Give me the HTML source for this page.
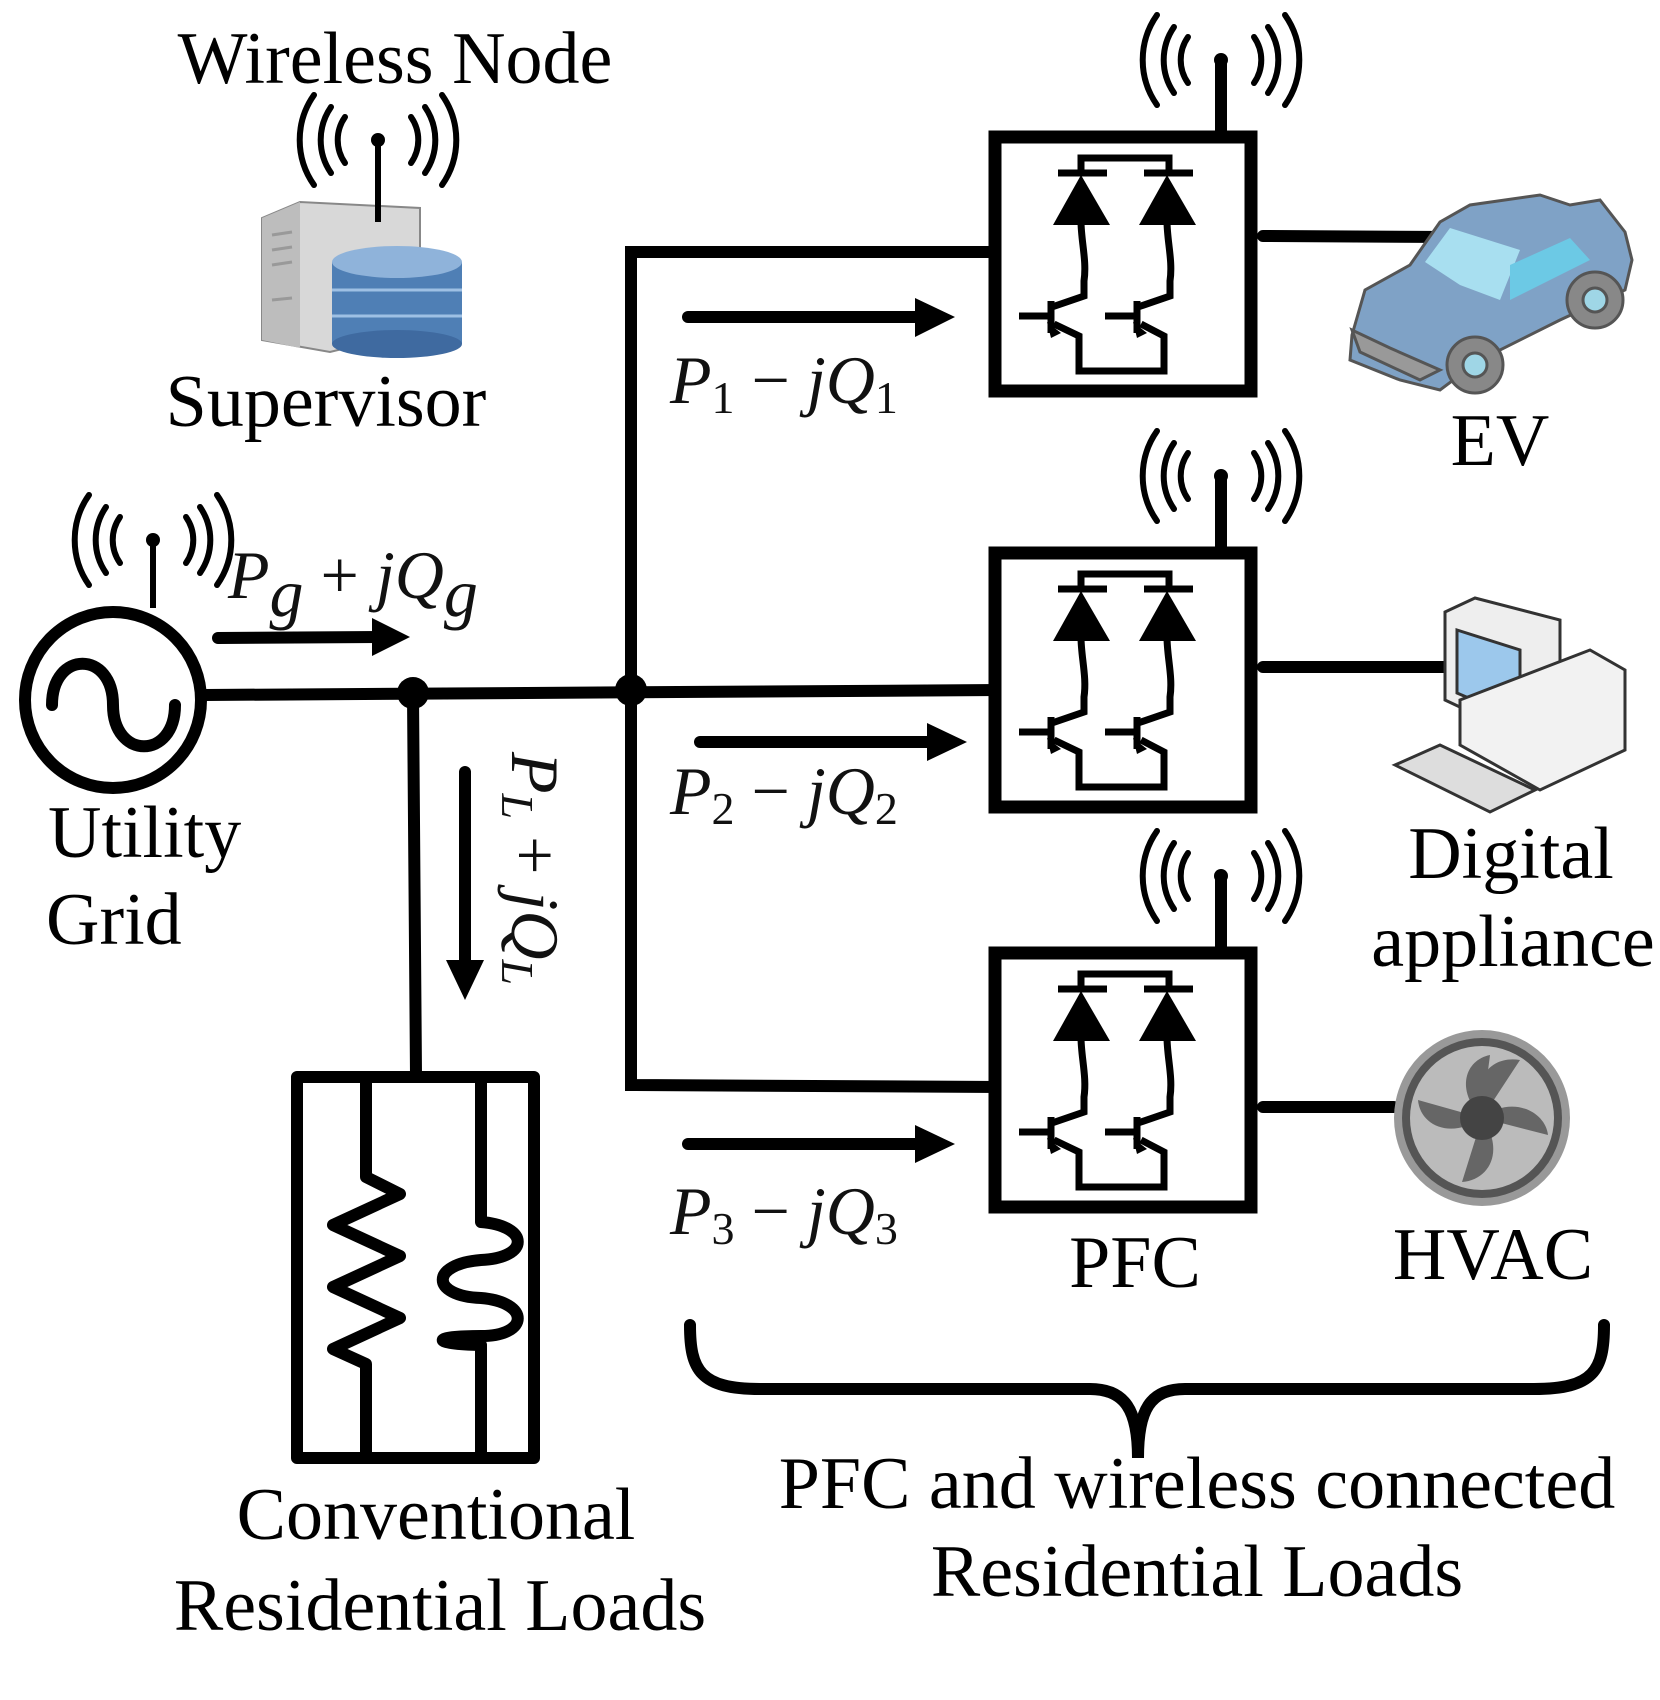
<!DOCTYPE html>
<html><head><meta charset="utf-8"><style>
html,body{margin:0;padding:0;background:#fff}
svg{display:block}
text{font-family:"Liberation Serif","Times New Roman",serif}
.m{font-style:italic;fill:#111}
</style></head><body>
<svg width="1660" height="1700" viewBox="0 0 1660 1700" xmlns="http://www.w3.org/2000/svg">
<defs>
<g id="ant" fill="none" stroke="#000" stroke-width="6" stroke-linecap="round">
  <path d="M-33,-23 A40,40 0 0 0 -33,23"/><path d="M-47,-33 A58,58 0 0 0 -47,33"/><path d="M-64,-45 A78,78 0 0 0 -64,45"/>
  <path d="M33,-23 A40,40 0 0 1 33,23"/><path d="M47,-33 A58,58 0 0 1 47,33"/><path d="M64,-45 A78,78 0 0 1 64,45"/>
  <circle cx="0" cy="0" r="7" fill="#000" stroke="none"/>
</g>
<g id="pfc">
  <rect x="6" y="6" width="256" height="254" fill="#fff" stroke="#000" stroke-width="13"/>
  <g stroke="#000" stroke-width="7" fill="none">
    <path d="M92,42 V27 H180 V42"/>
    <line x1="69" y1="42" x2="118" y2="42"/><line x1="155" y1="42" x2="204" y2="42"/>
    <path d="M92,90 C92,110 98,130 95,150 L95,165 L63,176"/>
    <path d="M178,90 C178,110 184,130 181,150 L181,165 L149,176"/>
    <line x1="30" y1="185" x2="62" y2="185"/><line x1="62" y1="170" x2="62" y2="202"/>
    <line x1="116" y1="185" x2="148" y2="185"/><line x1="148" y1="170" x2="148" y2="202"/>
    <path d="M65,193 L90,205 V240 H175 V205 L152,193"/>
  </g>
  <g fill="#000">
    <polygon points="92,44 64,94 121,94"/><polygon points="178,44 150,94 207,94"/>
    <polygon points="58,191 72,202 62,207"/><polygon points="144,191 158,202 148,207"/>
  </g>
</g>
</defs>

<g stroke="#000" stroke-width="12" fill="none" stroke-linecap="round">
  <line x1="205" y1="695" x2="1000" y2="690"/>
  <polyline points="1000,252 631,252 631,1085 1000,1087"/>
  <line x1="413" y1="695" x2="416" y2="1075"/>
  <line x1="1263" y1="236" x2="1452" y2="237"/>
  <line x1="1263" y1="667" x2="1480" y2="667"/>
  <line x1="1263" y1="1107" x2="1394" y2="1107"/>
  <line x1="1221" y1="137" x2="1221" y2="62"/>
  <line x1="1221" y1="553" x2="1221" y2="478"/>
  <line x1="1221" y1="953" x2="1221" y2="878"/>
</g>
<circle cx="413" cy="693" r="16"/><circle cx="631" cy="690" r="16"/>

<circle cx="113" cy="700" r="88" fill="none" stroke="#000" stroke-width="12"/>
<path d="M52,705 C52,650 113,650 113,705 C113,760 175,760 175,705" fill="none" stroke="#000" stroke-width="12" stroke-linecap="round"/>
<line x1="153" y1="540" x2="153" y2="608" stroke="#000" stroke-width="6"/>
<use href="#ant" x="153" y="540"/>

<use href="#pfc" x="989" y="131"/>
<use href="#pfc" x="989" y="547"/>
<use href="#pfc" x="989" y="947"/>
<use href="#ant" x="1221" y="60"/>
<use href="#ant" x="1221" y="476"/>
<use href="#ant" x="1221" y="876"/>

<g stroke="#000" stroke-width="12" stroke-linecap="round">
  <line x1="218" y1="638" x2="380" y2="637"/>
  <line x1="688" y1="317" x2="920" y2="317"/>
  <line x1="700" y1="742" x2="930" y2="742"/>
  <line x1="688" y1="1144" x2="920" y2="1144"/>
  <line x1="465" y1="772" x2="465" y2="965"/>
</g>
<g fill="#000">
  <polygon points="372,618 410,637 372,656"/>
  <polygon points="915,298 955,317 915,337"/>
  <polygon points="927,723 967,742 927,761"/>
  <polygon points="915,1125 955,1144 915,1163"/>
  <polygon points="446,960 465,1000 484,960"/>
</g>

<g stroke="#000" stroke-width="12" fill="none" stroke-linejoin="round">
  <rect x="297" y="1077" width="237" height="381"/>
  <polyline points="366,1077 366,1177 400,1194 333,1225 400,1256 333,1287 400,1318 333,1349 366,1364 366,1458"/>
  <path d="M481,1077 V1222 C530,1226 530,1258 481,1260 C430,1264 430,1296 481,1298 C530,1302 530,1336 481,1336 C430,1336 430,1344 481,1345 V1458"/>
</g>

<path d="M690,1325 C690,1370 700,1389 760,1389 L1090,1389 C1125,1389 1138,1410 1138,1458 C1138,1410 1150,1389 1185,1389 L1534,1389 C1594,1389 1604,1370 1604,1325" fill="none" stroke="#000" stroke-width="12" stroke-linecap="round"/>

<g>
  <polygon points="262,218 300,202 420,208 420,330 330,352 262,340" fill="#d8d8d8" stroke="#888" stroke-width="2"/>
  <polygon points="262,218 300,202 300,348 262,340" fill="#bdbdbd"/>
  <g stroke="#999" stroke-width="3"><line x1="272" y1="235" x2="292" y2="232"/><line x1="272" y1="250" x2="292" y2="247"/><line x1="272" y1="265" x2="292" y2="262"/><line x1="272" y1="300" x2="292" y2="298"/></g>
  <rect x="332" y="262" width="130" height="82" fill="#4f7fb5"/>
  <ellipse cx="397" cy="344" rx="65" ry="14" fill="#3f6aa0"/>
  <ellipse cx="397" cy="262" rx="65" ry="16" fill="#8fb3da"/>
  <line x1="332" y1="290" x2="462" y2="290" stroke="#9ec0e4" stroke-width="3"/>
  <line x1="332" y1="316" x2="462" y2="316" stroke="#9ec0e4" stroke-width="3"/>
  <line x1="378" y1="140" x2="378" y2="222" stroke="#000" stroke-width="6"/>
  <use href="#ant" x="378" y="140"/>
</g>

<g stroke="#555" stroke-width="3">
  <polygon points="1352,335 1365,290 1410,265 1440,222 1470,205 1540,195 1570,205 1600,200 1625,232 1632,260 1625,290 1560,320 1480,360 1440,390 1400,380 1350,360" fill="#7fa2c6"/>
  <polygon points="1425,262 1450,228 1520,250 1500,300 1460,285" fill="#a8dff0" stroke="none"/>
  <polygon points="1510,265 1570,238 1590,260 1510,300" fill="#6cc9e5" stroke="none"/>
  <polygon points="1352,330 1360,352 1420,380 1440,370 1390,348" fill="#999"/>
  <circle cx="1475" cy="365" r="28" fill="#888"/><circle cx="1475" cy="365" r="12" fill="#9fd6e6"/>
  <circle cx="1595" cy="300" r="28" fill="#888"/><circle cx="1595" cy="300" r="12" fill="#9fd6e6"/>
</g>

<g stroke="#333" stroke-width="3">
  <polygon points="1445,612 1475,598 1560,620 1560,720 1530,740 1445,700" fill="#eee"/>
  <polygon points="1457,630 1520,650 1520,720 1457,693" fill="#9cc8ec"/>
  <polygon points="1460,700 1590,650 1625,670 1625,750 1540,790 1460,745" fill="#f2f2f2"/>
  <polygon points="1395,765 1440,745 1535,790 1490,812" fill="#ddd"/>
</g>

<g>
  <circle cx="1482" cy="1118" r="88" fill="#999"/>
  <circle cx="1482" cy="1118" r="80" fill="#555"/>
  <circle cx="1482" cy="1118" r="72" fill="#bbb"/>
  <g fill="#666">
    <path d="M1482,1118 C1470,1080 1490,1055 1520,1060 Z"/>
    <path d="M1482,1118 C1510,1095 1545,1110 1548,1135 Z"/>
    <path d="M1482,1118 C1505,1150 1490,1180 1462,1182 Z"/>
    <path d="M1482,1118 C1450,1140 1420,1125 1418,1100 Z"/>
    <path d="M1482,1118 C1455,1090 1465,1060 1490,1055 Z"/>
  </g>
  <circle cx="1482" cy="1118" r="22" fill="#444"/>
</g>

<g font-size="74" fill="#000">
  <text x="395" y="83" text-anchor="middle">Wireless  Node</text>
  <text x="326" y="426" text-anchor="middle">Supervisor</text>
  <text x="48" y="857">Utility</text>
  <text x="46" y="944">Grid</text>
  <text x="1500" y="465" text-anchor="middle">EV</text>
  <text x="1511" y="878" text-anchor="middle">Digital</text>
  <text x="1513" y="966" text-anchor="middle">appliance</text>
  <text x="1135" y="1287" text-anchor="middle">PFC</text>
  <text x="1493" y="1279" text-anchor="middle">HVAC</text>
  <text x="436" y="1539" text-anchor="middle">Conventional</text>
  <text x="440" y="1630" text-anchor="middle">Residential Loads</text>
  <text x="1197" y="1508" text-anchor="middle">PFC and wireless connected</text>
  <text x="1197" y="1596" text-anchor="middle">Residential Loads</text>
</g>
<g font-size="68">
  <text class="m" x="670" y="403">P<tspan font-size="46" font-style="normal" dy="10">1</tspan><tspan dy="-10" font-style="normal"> − </tspan>jQ<tspan font-size="46" font-style="normal" dy="10">1</tspan></text>
  <text class="m" x="670" y="814">P<tspan font-size="46" font-style="normal" dy="10">2</tspan><tspan dy="-10" font-style="normal"> − </tspan>jQ<tspan font-size="46" font-style="normal" dy="10">2</tspan></text>
  <text class="m" x="670" y="1234">P<tspan font-size="46" font-style="normal" dy="10">3</tspan><tspan dy="-10" font-style="normal"> − </tspan>jQ<tspan font-size="46" font-style="normal" dy="10">3</tspan></text>
  <text class="m" x="228" y="598">P<tspan dy="18">g</tspan><tspan dy="-18" font-style="normal"> + </tspan>jQ<tspan dy="18">g</tspan></text>
  <text class="m" transform="translate(512,752) rotate(90)">P<tspan font-size="46" dy="10">L</tspan><tspan dy="-10" font-style="normal"> + </tspan>jQ<tspan font-size="46" dy="10">L</tspan></text>
</g>
</svg>
</body></html>
